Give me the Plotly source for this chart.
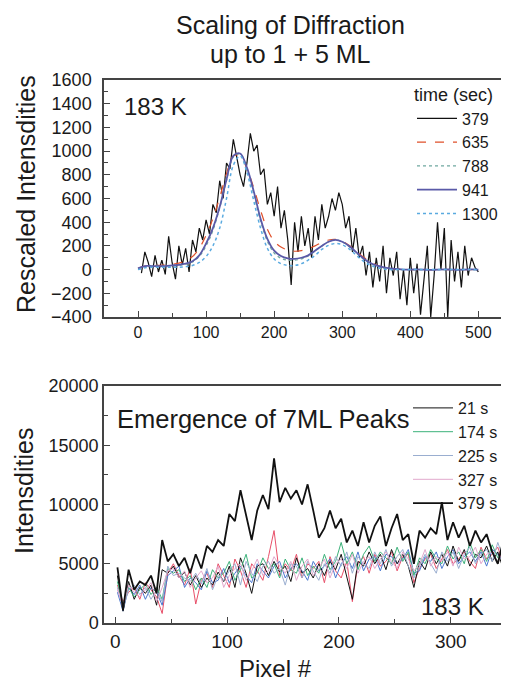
import plotly.graph_objects as go

# ---------------- top panel data ----------------
top_x_raw = list(range(5, 501, 5))
top_379 = [-30, 150, 60, -60, 120, -20, 80, -40, 280, 60,
           -80, 200, 40, 180, -20, 250, 150, 350, 250, 420,
           300, 550, 480, 750, 600, 900, 850, 1100, 950, 800,
           700, 900, 1150, 1000, 1050, 800, 850, 550, 650, 450,
           700, 350, 500, 250, -130, 400, 150, 450, 200, 350,
           100, 450, 250, 550, 350, 450, 600, 500, 650, 550,
           350, 450, 150, 350, 100, 200, -50, 150, -150, 100,
           -100, 200, -200, 100, -50, 150, -250, 0, -300, 100,
           -200, 50, -380, -100, 200, -400, -50, 400, 0, 350,
           -400, 250, -100, 150, -150, 200, -50, 100, 20, -20]

top_x_smooth = list(range(0, 501, 10))
top_635 = [10, 30, 35, 35, 40, 45, 55, 75, 110, 180,
           290, 430, 610, 810, 960, 960, 850, 690, 500, 340,
           240, 190, 165, 155, 160, 175, 200, 230, 250, 255,
           240, 205, 160, 110, 70, 40, 20, 10, 5, 0,
           0, 0, 0, 0, 0, 0, 0, 0, 0, 0, 0]
top_788 = [5, 25, 30, 30, 30, 30, 35, 45, 65, 110,
           200, 330, 520, 750, 950, 975, 850, 640, 410, 240,
           140, 95, 80, 80, 90, 115, 155, 200, 235, 250,
           235, 195, 145, 95, 55, 30, 15, 5, 0, 0,
           0, 0, 0, 0, 0, 0, 0, 0, 0, 0, 0]
top_941 = [10, 30, 30, 30, 30, 35, 40, 50, 70, 120,
           220, 350, 530, 760, 960, 980, 860, 660, 430, 260,
           160, 115, 95, 90, 100, 120, 160, 200, 235, 250,
           235, 200, 150, 100, 60, 35, 20, 10, 5, 0,
           0, 2, 0, -3, 0, 2, 0, -2, 0, 2, 0]
top_1300 = [0, 15, 20, 20, 20, 20, 20, 25, 35, 60,
            110, 200, 350, 600, 880, 960, 820, 580, 350, 180,
            90, 50, 35, 35, 50, 80, 120, 170, 205, 220,
            210, 175, 125, 75, 40, 20, 5, 0, 0, 0,
            0, 0, 0, 0, 0, 0, 0, 0, 0, 0, 0]

# ---------------- bottom panel data ----------------
bot_x = list(range(2, 358, 5))
bot_379 = [4700, 1100, 4500, 2800, 3500, 3200, 4000, 2500, 7000, 5200,
           5800, 4800, 5500, 4200, 5800, 4600, 6500, 6000, 7000, 6500,
           9200, 8600, 11200, 9000, 7000, 9500, 10800, 9600, 13900, 10200,
           11400, 10500, 11200, 10000, 11700, 9500, 7200, 8000, 9500, 8000,
           8800, 6800, 7800, 6500, 8500, 6800, 8200, 9000, 6500, 8000,
           9200, 7000, 7500, 5000, 7800, 7200, 8000, 7500, 10200, 7000,
           8500, 7200, 8200, 6500, 7800, 6800, 7500, 6000, 5000, 7000,
           5500, 6500]
bot_21 = [4000, 1000, 3500, 2000, 3000, 2500, 3200, 1500, 4500, 4200,
          4800, 3800, 4300, 3200, 4000, 3000, 3800, 3200, 4300, 3500,
          4800, 3000, 5500, 4200, 2500, 4800, 5000, 4000, 5200, 4300,
          4800, 3500, 5500, 4200, 4600, 3800, 5000, 4000, 5200, 4500,
          5800, 4000, 2000, 5200, 4800, 6000, 5000, 5800, 4500, 6200,
          5000, 5800, 4800, 3000, 5200, 4500, 6000, 5000, 5800, 4800,
          6500, 5200, 6200, 4800, 5800, 5500, 6500, 5200, 6000, 4500,
          5800, 5200]
bot_174 = [3500, 1500, 3000, 2200, 2800, 3300, 2400, 3000, 2000, 4600,
           4200, 4500, 3500, 4000, 2800, 3800, 3000, 4500, 3800, 4200,
           5200, 3600, 4500, 5800, 3800, 4200, 5500, 4600, 5000, 3800,
           5400, 4500, 4200, 5500, 4000, 4800, 4200, 5800, 4500, 5200,
           6800, 5000, 6000, 4500, 5800, 6500, 5200, 6000, 5500, 5000,
           6400, 5200, 6000, 4000, 5500, 5000, 6200, 5400, 5000, 6500,
           5400, 6000, 5000, 6800, 5500, 6200, 5200, 6600, 5500, 6000,
           5000, 6300]
bot_225 = [3000, 1200, 2800, 3200, 2400, 3000, 2000, 2800, 1800, 4800,
           4000, 4200, 3800, 3500, 4200, 3300, 4600, 2800, 4000, 3600,
           4400, 5000, 3200, 5200, 4200, 3500, 4800, 5200, 4200, 4600,
           3200, 5000, 4800, 3800, 5200, 4400, 3600, 5000, 4200, 5600,
           4800, 6000, 4200, 5600, 5000, 4600, 6000, 5000, 6200, 4800,
           5600, 6200, 4800, 3800, 4800, 5800, 5000, 4200, 6000, 5200,
           6000, 4600, 5800, 6400, 5000, 5800, 6200, 5200, 6800, 5400,
           6200, 5800]
bot_327 = [2800, 1400, 3200, 2600, 2200, 2800, 3400, 1800, 3000, 4400,
           4600, 3800, 4400, 3000, 3800, 4400, 3400, 3800, 4800, 3000,
           4000, 4600, 5000, 3600, 4400, 5400, 4000, 4400, 5600, 4800,
           4200, 5200, 3600, 4800, 5400, 4000, 4600, 5400, 3800, 5000,
           5400, 4600, 5800, 4200, 5200, 5600, 4600, 5400, 6000, 5200,
           4600, 6000, 5400, 4400, 5000, 6200, 4800, 5600, 5200, 6000,
           4800, 6400, 5400, 5600, 6400, 5000, 5800, 6000, 5000, 6400,
           5200, 6000]
bot_extra_red = [3200, 1800, 2600, 3000, 2000, 3400, 2800, 2200, 800, 4200,
                 5000, 4000, 3200, 4600, 1600, 3600, 4200, 3000, 5000, 4000,
                 3000, 5400, 4400, 3000, 5000, 4400, 3600, 5600, 7800, 4000,
                 5000, 4400, 5800, 3800, 5000, 4600, 5200, 3400, 5600, 4400,
                 3800, 5200, 1800, 5000, 5600, 4200, 5800, 4800, 5200, 6000,
                 4400, 5600, 5800, 3400, 4600, 5400, 5800, 4600, 5400, 6200,
                 5000, 5400, 6000, 5200, 4600, 6400, 5400, 5800, 6400, 5000,
                 6600, 5400]
bot_extra_blue = [2600, 1000, 3000, 2400, 3200, 2000, 3000, 2600, 1500, 4000,
                  4400, 4800, 3000, 3800, 3400, 2800, 4400, 3400, 3600, 4600,
                  3400, 4200, 4800, 4000, 3400, 5000, 4400, 3800, 4800, 5200,
                  3800, 4600, 5000, 4400, 3600, 5200, 4400, 4800, 5400, 3800,
                  5000, 5600, 4600, 6000, 4400, 5400, 5600, 4400, 5800, 5600,
                  5000, 5400, 6200, 4200, 4400, 5600, 5200, 6000, 4600, 5600,
                  6200, 5000, 5600, 6000, 5200, 6000, 4800, 6200, 5800, 5200,
                  6400, 5000]

# page body has an 8px margin; the figure is sized to fit the visible window
OFF = 8
W, H = 509 - OFF, 683 - OFF
FONT = "Liberation Sans, Arial, sans-serif"
TXT = "#1a1a1a"

def px_x(p):
    return (p - OFF) / W

def px_y(p):
    return (H - (p - OFF)) / H

fig = go.Figure()

# top panel traces
fig.add_trace(go.Scatter(x=top_x_raw, y=top_379, mode="lines", name="379",
                         line=dict(color="#111111", width=1.2), legend="legend",
                         xaxis="x", yaxis="y"))
fig.add_trace(go.Scatter(x=top_x_smooth, y=top_635, mode="lines", name="635",
                         line=dict(color="#e0502a", width=1.2, dash="dash"),
                         line_shape="spline", legend="legend", xaxis="x", yaxis="y"))
fig.add_trace(go.Scatter(x=top_x_smooth, y=top_788, mode="lines", name="788",
                         line=dict(color="#6fa8a0", width=1.2, dash="dot"),
                         line_shape="spline", legend="legend", xaxis="x", yaxis="y"))
fig.add_trace(go.Scatter(x=top_x_smooth, y=top_941, mode="lines", name="941",
                         line=dict(color="#5a5aa8", width=1.8),
                         line_shape="spline", legend="legend", xaxis="x", yaxis="y"))
fig.add_trace(go.Scatter(x=top_x_smooth, y=top_1300, mode="lines", name="1300",
                         line=dict(color="#5aaae0", width=1.5, dash="dot"),
                         line_shape="spline", legend="legend", xaxis="x", yaxis="y"))

# bottom panel traces
fig.add_trace(go.Scatter(x=bot_x, y=bot_extra_red, mode="lines", showlegend=False,
                         line=dict(color="#e8506a", width=1), xaxis="x2", yaxis="y2"))
fig.add_trace(go.Scatter(x=bot_x, y=bot_extra_blue, mode="lines", showlegend=False,
                         line=dict(color="#4a78d0", width=1), xaxis="x2", yaxis="y2"))
fig.add_trace(go.Scatter(x=bot_x, y=bot_21, mode="lines", name="21 s",
                         line=dict(color="#111111", width=1), legend="legend2",
                         xaxis="x2", yaxis="y2"))
fig.add_trace(go.Scatter(x=bot_x, y=bot_174, mode="lines", name="174 s",
                         line=dict(color="#3cb27a", width=1), legend="legend2",
                         xaxis="x2", yaxis="y2"))
fig.add_trace(go.Scatter(x=bot_x, y=bot_225, mode="lines", name="225 s",
                         line=dict(color="#9aaed0", width=1), legend="legend2",
                         xaxis="x2", yaxis="y2"))
fig.add_trace(go.Scatter(x=bot_x, y=bot_327, mode="lines", name="327 s",
                         line=dict(color="#e2a8cc", width=1), legend="legend2",
                         xaxis="x2", yaxis="y2"))
fig.add_trace(go.Scatter(x=bot_x, y=bot_379, mode="lines", name="379 s",
                         line=dict(color="#111111", width=1.8), legend="legend2",
                         xaxis="x2", yaxis="y2"))

line_common = dict(showline=True, linecolor="#444444", linewidth=1.5,
                   ticks="inside", ticklen=6, tickcolor="#444444", tickwidth=1,
                   showgrid=False, zeroline=False, automargin=False)

def minor(dt):
    return dict(dtick=dt, tick0=0, ticks="inside", ticklen=4, tickcolor="#444444")

fig.update_layout(
    width=W, height=H,
    margin=dict(l=0, r=0, t=0, b=0, autoexpand=False),
    paper_bgcolor="white", plot_bgcolor="white",
    font=dict(family=FONT, color=TXT),
    xaxis=dict(domain=[px_x(104), 1], range=[-50, 545], anchor="y",
               tickvals=[0, 100, 200, 300, 400, 500], mirror=True, minor=minor(50),
               tickfont=dict(family=FONT, size=16, color=TXT), **line_common),
    yaxis=dict(domain=[px_y(317), px_y(80)], range=[-400, 1600], anchor="x",
               dtick=200, tick0=0, minor=minor(100), tickformat="d",
               ticklabelstandoff=7,
               tickfont=dict(family=FONT, size=18, color=TXT), **line_common),
    xaxis2=dict(domain=[px_x(104), 1], range=[-10, 352], anchor="y2",
                tickvals=[0, 100, 200, 300], mirror=True, minor=minor(50),
                tickfont=dict(family=FONT, size=19, color=TXT), **line_common),
    yaxis2=dict(domain=[px_y(623), px_y(386)], range=[0, 20000], anchor="x2",
                dtick=5000, tick0=0, minor=minor(2500), tickformat="d",
                tickfont=dict(family=FONT, size=18, color=TXT), **line_common),
    legend=dict(x=px_x(503), xanchor="right", y=px_y(78), yanchor="top",
                bgcolor="rgba(0,0,0,0)", font=dict(family=FONT, size=16, color=TXT),
                title=dict(text="time (sec)", font=dict(family=FONT, size=18, color=TXT)),
                itemwidth=40, tracegroupgap=0),
    legend2=dict(x=px_x(503), xanchor="right", y=px_y(391), yanchor="top",
                 bgcolor="rgba(0,0,0,0)", font=dict(family=FONT, size=16, color=TXT),
                 itemwidth=40, tracegroupgap=0),
)

ann = [
    dict(text="Scaling of Diffraction", x=px_x(290), y=px_y(25), size=25),
    dict(text="up to 1 + 5 ML", x=px_x(290), y=px_y(54), size=25),
    dict(text="183 K", x=px_x(155), y=px_y(106), size=24),
    dict(text="Emergence of 7ML Peaks", x=px_x(263), y=px_y(419), size=25.5),
    dict(text="183 K", x=px_x(452), y=px_y(606), size=24),
    dict(text="Pixel #", x=px_x(275), y=px_y(668), size=24),
]
for a in ann:
    fig.add_annotation(text=a["text"], x=a["x"], y=a["y"], xref="paper", yref="paper",
                       xanchor="center", yanchor="middle", showarrow=False,
                       font=dict(family=FONT, size=a["size"], color=TXT))
fig.add_annotation(text="Rescaled Intensdities", x=px_x(26), y=px_y(194), xref="paper",
                   yref="paper", textangle=-90, showarrow=False, xanchor="center",
                   yanchor="middle", font=dict(family=FONT, size=25, color=TXT))
fig.add_annotation(text="Intensdities", x=px_x(24), y=px_y(491), xref="paper",
                   yref="paper", textangle=-90, showarrow=False, xanchor="center",
                   yanchor="middle", font=dict(family=FONT, size=25, color=TXT))

fig.write_html("out.html")
